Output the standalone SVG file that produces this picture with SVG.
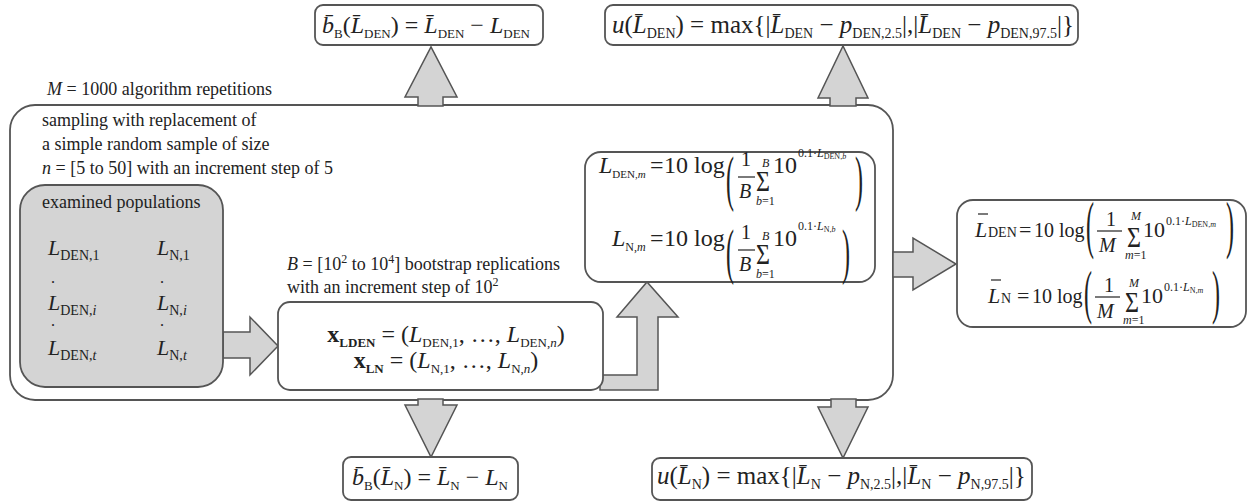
<svg xmlns="http://www.w3.org/2000/svg" width="1249" height="503" viewBox="0 0 1249 503">
<style>
text{font-family:"Liberation Serif","Times New Roman",serif;fill:#222}
.lbl{font-size:18px}
.f{font-size:24px}
.f25{font-size:25px}
.g{font-size:22px}
.i{font-style:italic}
.s{font-size:13px}
.s14{font-size:14px}
.s12{font-size:12px}
.s11{font-size:11px}
.s8{font-size:8px}
.b{font-weight:bold}
.box{fill:#fff;stroke:#555;stroke-width:1.8}
.gray{fill:#d4d4d4;stroke:#555;stroke-width:1.8}
.arrow{fill:#d4d4d4;stroke:#555;stroke-width:1.5}
.bar{stroke:#222;stroke-width:1.2}
</style>

<g id="container">
<rect class="box" x="10" y="105" width="883" height="295" rx="25"/>
<text class="lbl" x="47" y="95"><tspan class="i">M</tspan> = 1000 algorithm repetitions</text>
<text class="lbl" x="42" y="126">sampling with replacement of</text>
<text class="lbl" x="42" y="150">a simple random sample of size</text>
<text class="lbl" x="42" y="174"><tspan class="i">n</tspan> = [5 to 50] with an increment step of 5</text>
</g>

<g id="connectors">
<polygon class="arrow" points="418,106 418,97 405,97 431,47 457,97 443,97 443,106"/>
<polygon class="arrow" points="830,106 830,98 818,98 843,46 868,98 856,98 856,106"/>
<polygon class="arrow" points="418,399 418,405 405,405 431,457 457,405 443,405 443,399"/>
<polygon class="arrow" points="831,399 831,407 818,407 843,458 868,407 856,407 856,399"/>
<polygon class="arrow" points="893,252 913,252 913,238 956,264 913,290 913,277 893,277"/>
<polygon class="arrow" points="223,332 250,332 250,317 278,346 250,375 250,358 223,358"/>
<polygon class="arrow" points="600,375 637,375 637,317 617,317 647,282 678,317 658,317 658,390 600,390"/>
</g>

<g id="populations">
<rect class="gray" x="20" y="185" width="203" height="202" rx="25"/>
<text class="lbl" x="42" y="208">examined populations</text>
<text class="g" x="48" y="255"><tspan class="i">L</tspan><tspan class="s14" dy="5">DEN,1</tspan></text>
<text class="g" x="157" y="255"><tspan class="i">L</tspan><tspan class="s14" dy="5">N,1</tspan></text>
<text style="font-size:16px" x="51" y="283">.</text>
<text style="font-size:16px" x="160" y="283">.</text>
<text class="g" x="48" y="310"><tspan class="i">L</tspan><tspan class="s14" dy="5">DEN,<tspan class="i">i</tspan></tspan></text>
<text class="g" x="157" y="310"><tspan class="i">L</tspan><tspan class="s14" dy="5">N,<tspan class="i">i</tspan></tspan></text>
<text style="font-size:16px" x="51" y="326">.</text>
<text style="font-size:16px" x="160" y="326">.</text>
<text class="g" x="48" y="355"><tspan class="i">L</tspan><tspan class="s14" dy="5">DEN,<tspan class="i">t</tspan></tspan></text>
<text class="g" x="157" y="355"><tspan class="i">L</tspan><tspan class="s14" dy="5">N,<tspan class="i">t</tspan></tspan></text>
</g>

<g id="bootstrap">
<text class="lbl" x="287" y="270"><tspan class="i">B</tspan> = [10<tspan class="s12" dy="-7">2</tspan><tspan dy="7"> to 10</tspan><tspan class="s12" dy="-7">4</tspan><tspan dy="7">] bootstrap replications</tspan></text>
<text class="lbl" x="287" y="293">with an increment step of 10<tspan class="s12" dy="-7">2</tspan></text>
<rect class="box" x="278" y="302" width="325" height="88" rx="12"/>
<text class="f" x="446" y="342" text-anchor="middle"><tspan class="b">x</tspan><tspan class="s b" dy="5">LDEN</tspan><tspan dy="-5"> = (</tspan><tspan class="i">L</tspan><tspan class="s" dy="5">DEN,1</tspan><tspan dy="-5">, …, </tspan><tspan class="i">L</tspan><tspan class="s" dy="5">DEN,<tspan class="i">n</tspan></tspan><tspan dy="-5">)</tspan></text>
<text class="f" x="446" y="368" text-anchor="middle"><tspan class="b">x</tspan><tspan class="s b" dy="5">LN</tspan><tspan dy="-5"> = (</tspan><tspan class="i">L</tspan><tspan class="s" dy="5">N,1</tspan><tspan dy="-5">, …, </tspan><tspan class="i">L</tspan><tspan class="s" dy="5">N,<tspan class="i">n</tspan></tspan><tspan dy="-5">)</tspan></text>
</g>

<g id="inner-means">
<rect class="box" x="585" y="152" width="290" height="130" rx="16"/>
<!-- row 1 -->
<text class="f" x="599" y="173"><tspan class="i">L</tspan><tspan class="s11" dy="5">DEN,<tspan class="i">m</tspan></tspan></text>
<text class="f" x="650" y="173">=</text>
<text class="f" x="664" y="173">10 log</text>
<text class="f" transform="translate(726,199) scale(1,2.57)">(</text>
<text style="font-size:20px" x="741" y="166">1</text>
<line class="bar" x1="738" y1="177" x2="755" y2="177"/>
<text style="font-size:20px" class="i" x="739" y="198">B</text>
<text style="font-size:30px" transform="translate(756,191) scale(0.8,1)">Σ</text>
<text class="s12 i" x="762" y="167">B</text>
<text class="s12" x="756" y="205"><tspan class="i">b</tspan>=1</text>
<text class="f" x="773" y="173">10</text>
<text class="s12" x="798" y="157">0.1·<tspan class="i">L</tspan><tspan class="s8" dy="2">DEN,<tspan class="i">b</tspan></tspan></text>
<text class="f" transform="translate(855,199) scale(1,2.57)">)</text>
<!-- row 2 -->
<text class="f" x="612" y="246"><tspan class="i">L</tspan><tspan class="s12" dy="5">N,<tspan class="i">m</tspan></tspan></text>
<text class="f" x="650" y="246">=</text>
<text class="f" x="664" y="246">10 log</text>
<text class="f" transform="translate(726,272) scale(1,2.57)">(</text>
<text style="font-size:20px" x="741" y="239">1</text>
<line class="bar" x1="738" y1="250" x2="755" y2="250"/>
<text style="font-size:20px" class="i" x="739" y="271">B</text>
<text style="font-size:30px" transform="translate(756,264) scale(0.8,1)">Σ</text>
<text class="s12 i" x="762" y="240">B</text>
<text class="s12" x="756" y="278"><tspan class="i">b</tspan>=1</text>
<text class="f" x="773" y="246">10</text>
<text class="s12" x="798" y="230">0.1·<tspan class="i">L</tspan><tspan class="s8" dy="2">N,<tspan class="i">b</tspan></tspan></text>
<text class="f" transform="translate(842,272) scale(1,2.57)">)</text>
</g>

<g id="overall-means">
<rect class="box" x="957" y="200" width="289" height="127" rx="16"/>
<!-- row 1 -->
<text style="font-size:22px" class="i" x="975" y="237">L</text>
<line class="bar" x1="978" y1="214" x2="988" y2="214"/>
<text class="s14" x="988" y="237">DEN</text>
<text style="font-size:22px" x="1019" y="237">=</text>
<text style="font-size:20px" x="1034" y="237">10 log</text>
<text style="font-size:24px" transform="translate(1086,246) scale(1,2.6)">(</text>
<text style="font-size:20px" x="1106" y="226">1</text>
<line class="bar" x1="1097" y1="231" x2="1122" y2="231"/>
<text style="font-size:20px" class="i" x="1099" y="252">M</text>
<text style="font-size:30px" transform="translate(1127,247) scale(0.8,1)">Σ</text>
<text class="s12 i" x="1131" y="220">M</text>
<text class="s12" x="1125" y="259"><tspan class="i">m</tspan>=1</text>
<text style="font-size:22px" x="1143" y="237">10</text>
<text class="s12" x="1166" y="225">0.1·<tspan class="i">L</tspan><tspan class="s8" dy="2">DEN,<tspan class="i">m</tspan></tspan></text>
<text style="font-size:24px" transform="translate(1226,246) scale(1,2.6)">)</text>
<!-- row 2 -->
<text style="font-size:22px" class="i" x="988" y="303">L</text>
<line class="bar" x1="991" y1="280" x2="1001" y2="280"/>
<text class="s14" x="1001" y="303">N</text>
<text style="font-size:22px" x="1017" y="303">=</text>
<text style="font-size:20px" x="1032" y="303">10 log</text>
<text style="font-size:24px" transform="translate(1084,312) scale(1,2.5)">(</text>
<text style="font-size:20px" x="1104" y="292">1</text>
<line class="bar" x1="1095" y1="297" x2="1120" y2="297"/>
<text style="font-size:20px" class="i" x="1097" y="318">M</text>
<text style="font-size:30px" transform="translate(1125,312) scale(0.8,1)">Σ</text>
<text class="s12 i" x="1129" y="287">M</text>
<text class="s12" x="1123" y="324"><tspan class="i">m</tspan>=1</text>
<text style="font-size:22px" x="1141" y="303">10</text>
<text class="s12" x="1164" y="291">0.1·<tspan class="i">L</tspan><tspan class="s8" dy="2">N,<tspan class="i">m</tspan></tspan></text>
<text style="font-size:24px" transform="translate(1212,312) scale(1,2.5)">)</text>
</g>

<g id="bias-den">
<rect class="box" x="315" y="5" width="228" height="40" rx="8"/>
<text class="f" x="322" y="33"><tspan class="i">b̄</tspan><tspan class="s" dy="5">B</tspan><tspan dy="-5">(</tspan><tspan class="i">L̄</tspan><tspan class="s" dy="5">DEN</tspan><tspan dy="-5">) = </tspan><tspan class="i">L̄</tspan><tspan class="s" dy="5">DEN</tspan><tspan dy="-5"> − </tspan><tspan class="i">L</tspan><tspan class="s" dy="5">DEN</tspan></text>
</g>

<g id="unc-den">
<rect class="box" x="605" y="5" width="473" height="40" rx="8"/>
<text class="f25" x="612" y="33"><tspan class="i">u</tspan>(<tspan class="i">L̄</tspan><tspan class="s14" dy="5">DEN</tspan><tspan dy="-5">) = max{|</tspan><tspan class="i">L̄</tspan><tspan class="s14" dy="5">DEN</tspan><tspan dy="-5"> − </tspan><tspan class="i">p</tspan><tspan class="s14" dy="5">DEN,2.5</tspan><tspan dy="-5">|,|</tspan><tspan class="i">L̄</tspan><tspan class="s14" dy="5">DEN</tspan><tspan dy="-5"> − </tspan><tspan class="i">p</tspan><tspan class="s14" dy="5">DEN,97.5</tspan><tspan dy="-5">|}</tspan></text>
</g>

<g id="bias-n">
<rect class="box" x="343" y="457" width="175" height="43" rx="8"/>
<text class="f" x="352" y="485"><tspan class="i">b̄</tspan><tspan class="s" dy="5">B</tspan><tspan dy="-5">(</tspan><tspan class="i">L̄</tspan><tspan class="s" dy="5">N</tspan><tspan dy="-5">) = </tspan><tspan class="i">L̄</tspan><tspan class="s" dy="5">N</tspan><tspan dy="-5"> − </tspan><tspan class="i">L</tspan><tspan class="s" dy="5">N</tspan></text>
</g>

<g id="unc-n">
<rect class="box" x="652" y="458" width="380" height="42" rx="8"/>
<text class="f25" x="657" y="484"><tspan class="i">u</tspan>(<tspan class="i">L̄</tspan><tspan class="s14" dy="5">N</tspan><tspan dy="-5">) = max{|</tspan><tspan class="i">L̄</tspan><tspan class="s14" dy="5">N</tspan><tspan dy="-5"> − </tspan><tspan class="i">p</tspan><tspan class="s14" dy="5">N,2.5</tspan><tspan dy="-5">|,|</tspan><tspan class="i">L̄</tspan><tspan class="s14" dy="5">N</tspan><tspan dy="-5"> − </tspan><tspan class="i">p</tspan><tspan class="s14" dy="5">N,97.5</tspan><tspan dy="-5">|}</tspan></text>
</g>
</svg>
